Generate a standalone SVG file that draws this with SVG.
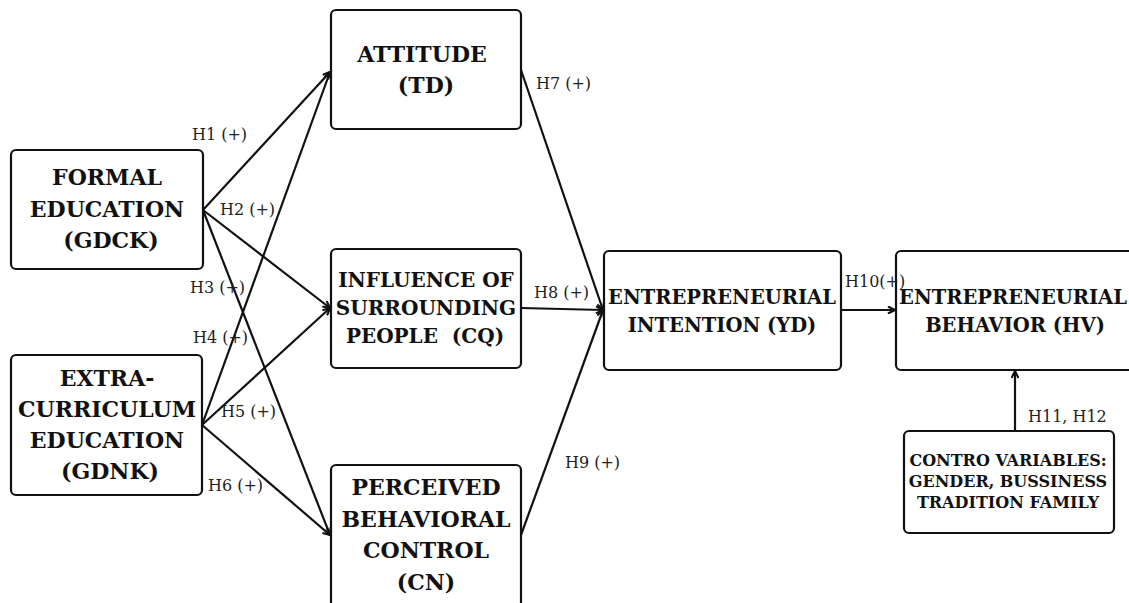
<svg xmlns="http://www.w3.org/2000/svg" width="1129" height="603" viewBox="0 0 1129 603">
<style>
.box{fill:#fff;stroke:#111;stroke-width:2.2}
.t{font-family:"DejaVu Serif",serif;font-weight:bold;font-size:22px;fill:#111;text-anchor:middle}
.tm{font-family:"DejaVu Serif",serif;font-weight:bold;font-size:20px;fill:#111;text-anchor:middle}
.tn{font-family:"DejaVu Serif",serif;font-weight:bold;font-size:19.5px;fill:#111;text-anchor:middle}
.ts{font-family:"DejaVu Serif",serif;font-weight:bold;font-size:16px;fill:#111;text-anchor:middle}
.l{font-family:"DejaVu Serif",serif;font-size:16px;fill:#222}
.c{fill:none;stroke:#111;stroke-width:2.2;marker-end:url(#ah)}
</style>
<defs>
<marker id="ah" viewBox="0 0 10 10" refX="9" refY="5" markerWidth="4" markerHeight="4" orient="auto" markerUnits="strokeWidth">
<path d="M1,1 L9,5 L1,9" fill="none" stroke="#111" stroke-width="2.4"/>
</marker>
</defs>
<rect width="1129" height="603" fill="#fff"/>
<g id="connectors">
<line class="c" x1="203" y1="210" x2="330" y2="72"/>
<line class="c" x1="203" y1="210" x2="330" y2="308"/>
<line class="c" x1="203" y1="210" x2="330" y2="535"/>
<line class="c" x1="202" y1="425" x2="330" y2="72"/>
<line class="c" x1="202" y1="425" x2="330" y2="308"/>
<line class="c" x1="202" y1="425" x2="330" y2="535"/>
<line class="c" x1="521" y1="70" x2="603" y2="310"/>
<line class="c" x1="521" y1="308" x2="603" y2="310"/>
<line class="c" x1="521" y1="535" x2="603" y2="310"/>
<line class="c" x1="841" y1="310" x2="895" y2="310"/>
<line class="c" x1="1015" y1="431" x2="1015" y2="371"/>
</g>
<g id="attitude">
<rect class="box" x="331" y="10" width="190" height="119" rx="5"/>
<text class="t" x="422" y="62">ATTITUDE</text>
<text class="t" x="426" y="93">(TD)</text>
</g>
<g id="formal">
<rect class="box" x="11" y="150" width="192" height="119" rx="5"/>
<text class="t" x="107" y="185">FORMAL</text>
<text class="t" x="107" y="217">EDUCATION</text>
<text class="t" x="111" y="248">(GDCK)</text>
</g>
<g id="influence">
<rect class="box" x="331" y="249" width="190" height="119" rx="5"/>
<text class="tm" x="426" y="287">INFLUENCE OF</text>
<text class="tm" x="426" y="315">SURROUNDING</text>
<text class="tm" x="425" y="343" xml:space="preserve">PEOPLE  (CQ)</text>
</g>
<g id="extra">
<rect class="box" x="11" y="355" width="191" height="140" rx="5"/>
<text class="t" x="107" y="386">EXTRA-</text>
<text class="t" x="107" y="417">CURRICULUM</text>
<text class="t" x="107" y="448">EDUCATION</text>
<text class="t" x="110" y="479">(GDNK)</text>
</g>
<g id="perceived">
<rect class="box" x="331" y="465" width="190" height="150" rx="5"/>
<text class="t" x="426" y="495">PERCEIVED</text>
<text class="t" x="426" y="527">BEHAVIORAL</text>
<text class="t" x="426" y="558">CONTROL</text>
<text class="t" x="426" y="590">(CN)</text>
</g>
<g id="intention">
<rect class="box" x="604" y="251" width="237" height="119" rx="5"/>
<text class="tn" x="722" y="304">ENTREPRENEURIAL</text>
<text class="tn" x="722" y="332">INTENTION (YD)</text>
</g>
<g id="behavior">
<rect class="box" x="896" y="251" width="245" height="119" rx="5"/>
<text class="tn" x="1013" y="304">ENTREPRENEURIAL</text>
<text class="tn" x="1015" y="332">BEHAVIOR (HV)</text>
</g>
<g id="control">
<rect class="box" x="904" y="431" width="210" height="102" rx="5"/>
<text class="ts" x="1008" y="466">CONTRO VARIABLES:</text>
<text class="ts" x="1008" y="487">GENDER, BUSSINESS</text>
<text class="ts" x="1008" y="508">TRADITION FAMILY</text>
</g>
<g id="connector-labels">
<text class="l" x="192" y="140">H1 (+)</text>
<text class="l" x="220" y="215">H2 (+)</text>
<text class="l" x="190" y="293">H3 (+)</text>
<text class="l" x="193" y="343">H4 (+)</text>
<text class="l" x="221" y="417">H5 (+)</text>
<text class="l" x="208" y="491">H6 (+)</text>
<text class="l" x="536" y="89">H7 (+)</text>
<text class="l" x="534" y="298">H8 (+)</text>
<text class="l" x="565" y="468">H9 (+)</text>
<text class="l" x="845" y="287">H10(+)</text>
<text class="l" x="1028" y="422">H11, H12</text>
</g>
</svg>
